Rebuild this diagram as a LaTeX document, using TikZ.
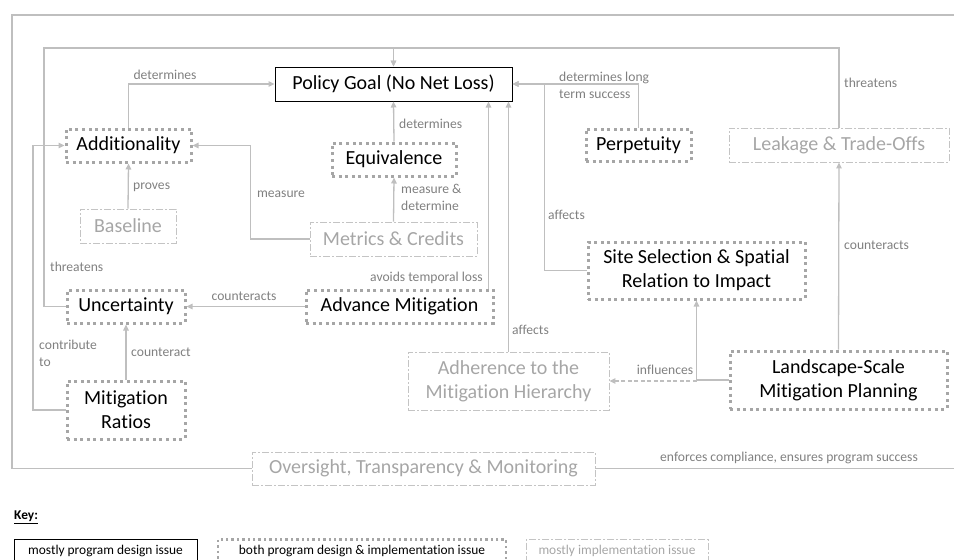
\documentclass[tikz,border=0pt]{standalone}
\usepackage{fontspec}
\setmainfont{Carlito}[Ligatures={NoCommon}]
\usetikzlibrary{arrows.meta}
\definecolor{linegray}{HTML}{BFBFBF}
\definecolor{labelgray}{HTML}{808080}
\definecolor{dotgray}{HTML}{A6A6A6}
\definecolor{impltext}{HTML}{A6A6A6}
\definecolor{implline}{HTML}{C4C4C4}
\newcommand{\nfnt}{\fontsize{20}{24}\selectfont}
\newcommand{\lfnt}{\fontsize{13.6}{17}\selectfont}
\newcommand{\kfnt}{\fontsize{13.4}{15}\selectfont}
\begin{document}
\begin{tikzpicture}[x=1pt,y=-1pt,
  design/.style={draw=black, line width=1pt, text=black, font=\nfnt, inner sep=0pt, align=center},
  both/.style={draw=dotgray, line width=3pt, dash pattern=on 3pt off 3.6pt, text=black, font=\nfnt, inner sep=0pt, align=center},
  impl/.style={draw=implline, line width=0.9pt, dash pattern=on 7pt off 2pt on 2pt off 2pt, text=impltext, font=\nfnt, inner sep=0pt, align=center},
  conn/.style={draw=linegray, line width=1.3pt, -{Triangle[length=6pt,width=5.5pt]}},
  dconn/.style={conn, dash pattern=on 4pt off 2.5pt},
  plain/.style={draw=linegray, line width=1.3pt},
  lbl/.style={text=labelgray, font=\lfnt, inner sep=0pt, align=left},
  keybox/.style={font=\kfnt, inner sep=0pt, minimum height=23pt}
]
\useasboundingbox (0,0) rectangle (954,560);

% nodes
\node[design, minimum width=237pt, minimum height=34pt] (goal) at (393.5,84) {Policy Goal (No Net Loss)};
\node[both, minimum width=125pt, minimum height=33pt] (add) at (128.5,145.5) {Additionality};
\node[both, minimum width=124pt, minimum height=33pt] (equiv) at (394,159.5) {Equivalence};
\node[both, minimum width=105pt, minimum height=32pt] (perp) at (638.5,145) {Perpetuity};
\node[impl, minimum width=220pt, minimum height=34pt] (leak) at (839,145) {Leakage \& Trade-Offs};
\node[impl, minimum width=96pt, minimum height=34pt] (base) at (128,226) {Baseline};
\node[impl, minimum width=167pt, minimum height=34pt] (metrics) at (393.5,239) {Metrics \& Credits};
\node[both, minimum width=217pt, minimum height=57pt] (site) at (696.5,270.5) {Site Selection \& Spatial\\Relation to Impact};
\node[both, minimum width=118pt, minimum height=33pt] (unc) at (126,306.5) {Uncertainty};
\node[both, minimum width=187pt, minimum height=33pt] (adv) at (399.5,306.5) {Advance Mitigation};
\node[impl, minimum width=201pt, minimum height=58pt] (adh) at (508.5,381) {Adherence to the\\Mitigation Hierarchy};
\node[both, minimum width=217pt, minimum height=58pt] (land) at (838.5,380) {Landscape-Scale\\Mitigation Planning};
\node[both, minimum width=118pt, minimum height=58pt] (ratio) at (126,410) {Mitigation\\Ratios};
\node[impl, minimum width=343pt, minimum height=33pt] (over) at (423.5,468.5) {Oversight, Transparency \& Monitoring};

% connectors
\draw[conn] (add.north) |- (goal.west);
\draw[conn] (equiv.north) -- (goal.south);
\draw[conn] (base.north) -- (add.south);
\draw[conn] (metrics.west) -- ++(-59,0) |- (add.east);
\draw[conn] (metrics.north) -- (equiv.south);
\draw[conn] (perp.north) |- (goal.east);
\draw[conn] (site.west) -- ++(-42,0) |- (goal.east);
\draw[conn] ([xshift=-6pt]adv.north east) -- ([xshift=-6pt]adv.north east |- goal.south);
\draw[conn] (adh.north) -- (adh.north |- goal.south);
\draw[conn] (adv.west) -- (unc.east);
\draw[conn] (ratio.north) -- (unc.south);
\draw[conn] (ratio.west) -- (33,410) |- (add.west);
\draw[conn] (land.west) -| (site.south);
\draw[dconn] (site.south |- adh.east) -- (adh.east);
\draw[conn] (land.north) -- (leak.south);
\coordinate (topjoin) at (393.5,48);
\draw[conn] (leak.north) |- (topjoin) -- (goal.north);
\draw[conn] (unc.west) -- (44,306.5) |- (topjoin) -- (goal.north);
\draw[plain] (over.west) -- (12,468.5) -- (12,15) -- (954,15);
\draw[plain] (over.east) -- (954,468.5);

% labels
\node[lbl] (l1) at (165,75) {determines};
\node[lbl, anchor=west] (l2) at (399,124) {determines};
\node[lbl, anchor=west] (l3) at (133,187) {proves};
\node[lbl] (l4) at (281,194) {measure};
\node[lbl, anchor=west] (l5) at (401,197) {measure \&\\determine};
\node[lbl, anchor=west] (l6) at (559,85.5) {determines long\\term success};
\node[lbl, anchor=west] (l7) at (548,215) {affects};
\node[lbl, anchor=west] (l8) at (844,83) {threatens};
\node[lbl, anchor=west] (l9) at (844,245) {counteracts};
\node[lbl, anchor=west] (l10) at (50,267) {threatens};
\node[lbl] (l11) at (244,296) {counteracts};
\node[lbl, anchor=west] (l12) at (39,353.5) {contribute\\to};
\node[lbl, anchor=west] (l13) at (131,352) {counteract};
\node[lbl, anchor=east] (l14) at (483,278) {avoids temporal loss};
\node[lbl, anchor=west] (l15) at (512,330) {affects};
\node[lbl] (l16) at (665,370) {influences};
\node[lbl] (l17) at (789,458) {enforces compliance, ensures program success};

% key
\node[font=\kfnt, anchor=west, inner sep=0pt] (key) at (14,517) {\underline{\textbf{Key:}}};
\node[keybox, draw=black, line width=0.9pt, minimum width=183pt] (k1) at (105.5,551) {mostly program design issue};
\node[keybox, draw=dotgray, line width=2.4pt, dash pattern=on 2.4pt off 3pt, minimum width=288pt] (k2) at (362,551) {both program design \& implementation issue};
\node[keybox, draw=implline, line width=0.8pt, dash pattern=on 7pt off 2pt on 2pt off 2pt, text=impltext, minimum width=182pt] (k3) at (617,551) {mostly implementation issue};
\end{tikzpicture}
\end{document}
